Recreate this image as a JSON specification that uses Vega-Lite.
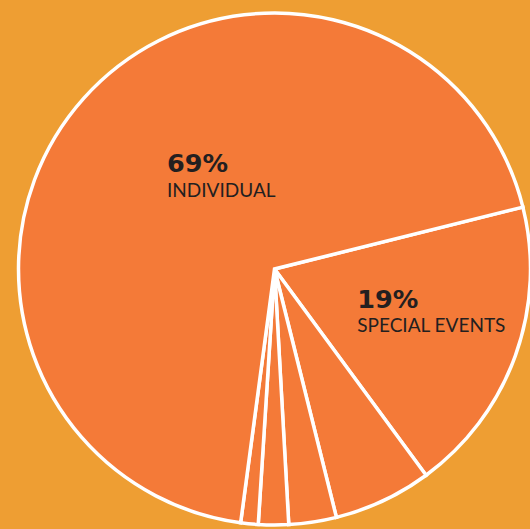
{
  "$schema": "https://vega.github.io/schema/vega-lite/v6.json",
  "width": 510,
  "height": 518,
  "padding": {"left": 19.5, "top": 10, "right": 0.5, "bottom": 1},
  "autosize": "none",
  "background": "#EE9E33",
  "config": {"view": {"stroke": null}},
  "data": {
    "values": [
      {"category": "Special Events", "value": 18.8, "rank": 1, "pct": "19%", "name": "SPECIAL EVENTS"},
      {"category": "Other A", "value": 6.2, "rank": 2, "pct": "", "name": ""},
      {"category": "Other B", "value": 3.0, "rank": 3, "pct": "", "name": ""},
      {"category": "Other C", "value": 1.9, "rank": 4, "pct": "", "name": ""},
      {"category": "Other D", "value": 1.1, "rank": 5, "pct": "", "name": ""},
      {"category": "Individual", "value": 69.0, "rank": 6, "pct": "69%", "name": "INDIVIDUAL"}
    ]
  },
  "encoding": {
    "theta": {"field": "value", "type": "quantitative", "stack": true, "scale": {"range": [1.3265, 7.6097]}},
    "order": {"field": "rank", "type": "quantitative", "sort": "ascending"}
  },
  "layer": [
    {
      "mark": {"type": "arc", "outerRadius": 256, "fill": "#F47A38", "stroke": "#FFFFFF", "strokeWidth": 3.5}
    },
    {
      "mark": {"type": "text", "radius": 144.2, "align": "left", "baseline": "alphabetic", "dy": -0.5, "font": "DejaVu Sans", "fontWeight": "bold", "fontSize": 25.5, "color": "#231F20"},
      "encoding": {"text": {"condition": {"test": "datum.category === 'Individual'", "field": "pct"}, "value": ""}}
    },
    {
      "mark": {"type": "text", "radius": 144.2, "align": "left", "baseline": "alphabetic", "dy": 24, "font": "Lato", "fontWeight": 400, "fontSize": 19, "color": "#231F20"},
      "encoding": {"text": {"condition": {"test": "datum.category === 'Individual'", "field": "name"}, "value": ""}}
    },
    {
      "mark": {"type": "text", "radius": 88, "align": "left", "baseline": "alphabetic", "dy": 8.7, "font": "DejaVu Sans", "fontWeight": "bold", "fontSize": 25.5, "color": "#231F20"},
      "encoding": {"text": {"condition": {"test": "datum.category === 'Special Events'", "field": "pct"}, "value": ""}}
    },
    {
      "mark": {"type": "text", "radius": 88, "align": "left", "baseline": "alphabetic", "dy": 33.2, "font": "Lato", "fontWeight": 400, "fontSize": 19, "color": "#231F20"},
      "encoding": {"text": {"condition": {"test": "datum.category === 'Special Events'", "field": "name"}, "value": ""}}
    }
  ]
}
